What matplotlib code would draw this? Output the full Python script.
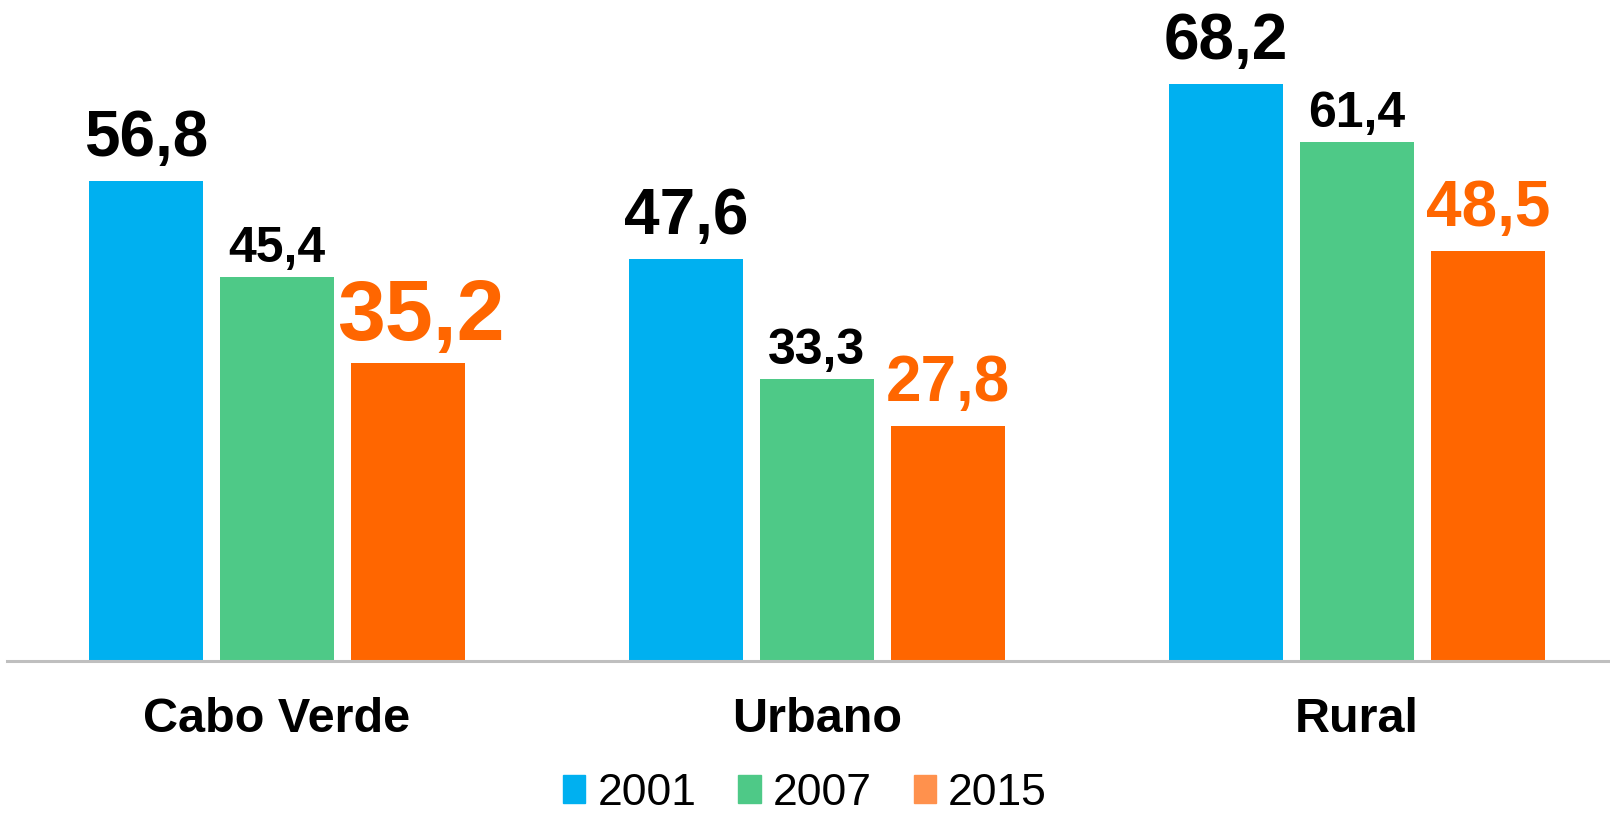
import matplotlib.pyplot as plt
from matplotlib.patches import Patch
import numpy as np

plt.rcParams['font.family'] = ['Liberation Sans', 'DejaVu Sans']

categories = ['Cabo Verde', 'Urbano', 'Rural']
years = ['2001', '2007', '2015']
v2001 = [56.8, 47.6, 68.2]
v2007 = [45.4, 33.3, 61.4]
v2015 = [35.2, 27.8, 48.5]

bar_colors = ['#00B0F0', '#4EC987', '#FF6600']
legend_colors = ['#00B0F0', '#4EC987', '#FF914D']

fig = plt.figure(figsize=(16.1, 8.14), dpi=100)
ax = fig.add_axes([7 / 1610, 0.188, 1 - 7 / 1610, 0.779])

x = np.arange(len(categories))
step = 0.2426
width = 0.211
series = [v2001, v2007, v2015]

for j, vals in enumerate(series):
  ax.bar(x + (j - 1) * step, vals, width=width, color=bar_colors[j], zorder=2)

def fmt(v):
  return f'{v:.1f}'.replace('.', ',')

# value labels (size differs per series, Cabo Verde 2015 is emphasised)
for i in range(len(categories)):
  # 2001
  ax.annotate(fmt(v2001[i]), (x[i] - step, v2001[i]), xytext=(0, 18), textcoords='offset points',
              ha='center', va='baseline', fontsize=46, fontweight='bold', color='black')
  # 2007
  ax.annotate(fmt(v2007[i]), (x[i], v2007[i]), xytext=(0, 11), textcoords='offset points',
              ha='center', va='baseline', fontsize=36, fontweight='bold', color='black')
  # 2015
  big = i == 0
  ax.annotate(fmt(v2015[i]), (x[i] + step, v2015[i]), xytext=(9 if big else 0, 17 if big else 18),
              textcoords='offset points', ha='center', va='baseline',
              fontsize=62 if big else 46, fontweight='bold', color='#FF6600')

ax.set_xlim(-0.5, 2.469)
ax.set_ylim(0, 75)
ax.set_xticks(x)
ax.set_xticklabels(categories, fontsize=35, fontweight='bold')
ax.tick_params(axis='x', length=0, pad=26)
ax.set_yticks([])

for s in ['top', 'right', 'left']:
  ax.spines[s].set_visible(False)
ax.spines['bottom'].set_color('#BFBFBF')
ax.spines['bottom'].set_linewidth(2.2)

handles = [Patch(color=c, label=y) for c, y in zip(legend_colors, years)]
fig.legend(handles=handles, loc='lower center', bbox_to_anchor=(0.5, 0.0), ncol=3, frameon=False,
           fontsize=32, handlelength=0.5, handleheight=0.6, handletextpad=0.27, columnspacing=0.95,
           borderpad=0, borderaxespad=0)

plt.savefig('out.png', dpi=100)
